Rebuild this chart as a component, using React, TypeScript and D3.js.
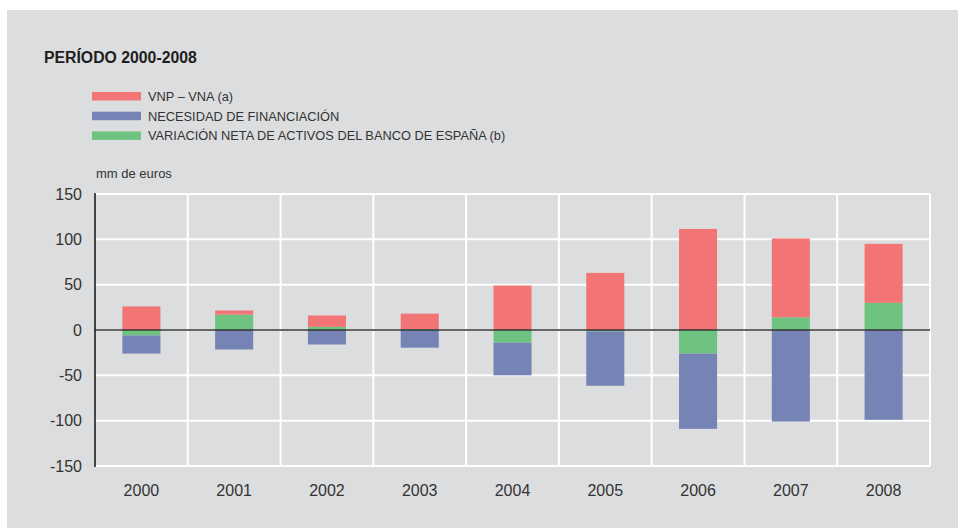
import React from "react";
import * as d3 from "d3";

const years = ["2000", "2001", "2002", "2003", "2004", "2005", "2006", "2007", "2008"];
const vnpVna = [26, 4.5, 12.5, 17, 49, 63, 111.5, 87, 65];
const necesidad = [-20, -21.5, -16, -19.5, -36, -60, -83, -101, -99];
const variacion = [-6, 17, 3.5, 1, -14, -1.5, -26, 14, 30];
const yTicks = [150, 100, 50, 0, -50, -100, -150];

const seriesInfo = [
  { key: "variacion", label: "VARIACIÓN NETA DE ACTIVOS DEL BANCO DE ESPAÑA (b)", color: "#6fc381" },
  { key: "vnp", label: "VNP – VNA (a)", color: "#f27475" },
  { key: "necesidad", label: "NECESIDAD DE FINANCIACIÓN", color: "#7584b4" },
];
const legendOrder = ["vnp", "necesidad", "variacion"];

const W = 958;
const H = 528;
const M = { left: 95, right: 930, top: 194, bottom: 466 };
const FONT = "'Liberation Sans', Arial, Helvetica, sans-serif";

export default function App() {
  const rows = years.map((y, i) => ({
    year: y,
    vnp: vnpVna[i],
    necesidad: necesidad[i],
    variacion: variacion[i],
  }));
  const x = d3.scaleBand<string>().domain(years).range([M.left, M.right]).paddingInner(0).paddingOuter(0);
  const y = d3.scaleLinear().domain([-150, 150]).range([M.bottom, M.top]);
  const stack = d3
    .stack<any>()
    .keys(seriesInfo.map((s) => s.key))
    .offset(d3.stackOffsetDiverging);
  const stacked = stack(rows as any);
  const barW = x.bandwidth() * 0.41;
  const colorOf = (k: string) => seriesInfo.find((s) => s.key === k)!.color;
  const labelOf = (k: string) => seriesInfo.find((s) => s.key === k)!.label;

  return (
    <svg width={W} height={H} style={{ position: "absolute", left: 0, top: 0, display: "block" }}>
      <rect x={0} y={0} width={W} height={H} fill="#ffffff" />
      <rect x={7} y={10} width={W - 7} height={H - 10} fill="#dcdddf" />
      <text x={44} y={63} fontFamily={FONT} fontSize={15.8} fontWeight="bold" fill="#1e1e1e">
        PERÍODO 2000-2008
      </text>
      {legendOrder.map((k, i) => (
        <g key={k}>
          <rect x={92} y={92 + i * 19.7} width={49} height={8.5} fill={colorOf(k)} />
          <text x={148} y={101 + i * 19.7} fontFamily={FONT} fontSize={12.8} fill="#333">
            {labelOf(k)}
          </text>
        </g>
      ))}
      <text x={96} y={178} fontFamily={FONT} fontSize={13} fill="#333">
        mm de euros
      </text>
      {/* horizontal grid */}
      {yTicks.map((t) => (
        <line key={"h" + t} x1={M.left} x2={M.right} y1={y(t)} y2={y(t)} stroke="#ffffff" strokeWidth={2} />
      ))}
      {/* vertical grid */}
      {years.map((yr) => (
        <line
          key={"v" + yr}
          x1={(x(yr) as number) + x.bandwidth()}
          x2={(x(yr) as number) + x.bandwidth()}
          y1={M.top}
          y2={M.bottom}
          stroke="#ffffff"
          strokeWidth={2}
        />
      ))}
      {/* bars */}
      {stacked.map((s) => (
        <g key={s.key} fill={colorOf(s.key)}>
          {s.map((d, i) => {
            const y0 = y(d[0]);
            const y1 = y(d[1]);
            return (
              <rect
                key={i}
                x={(x(years[i]) as number) + (x.bandwidth() - barW) / 2}
                y={Math.min(y0, y1)}
                width={barW}
                height={Math.abs(y0 - y1)}
              />
            );
          })}
        </g>
      ))}
      {/* zero line */}
      <line x1={M.left} x2={M.right} y1={y(0)} y2={y(0)} stroke="#333" strokeWidth={1.5} />
      {/* left axis */}
      <line x1={M.left} x2={M.left} y1={M.top - 1} y2={M.bottom + 1} stroke="#111" strokeWidth={1.5} />
      {yTicks.map((t) => (
        <text
          key={"yl" + t}
          x={82}
          y={y(t)}
          dy="0.35em"
          textAnchor="end"
          fontFamily={FONT}
          fontSize={16}
          fill="#333"
        >
          {t}
        </text>
      ))}
      {years.map((yr) => (
        <text
          key={"xl" + yr}
          x={(x(yr) as number) + x.bandwidth() / 2}
          y={496}
          textAnchor="middle"
          fontFamily={FONT}
          fontSize={16}
          fill="#333"
        >
          {yr}
        </text>
      ))}
    </svg>
  );
}
